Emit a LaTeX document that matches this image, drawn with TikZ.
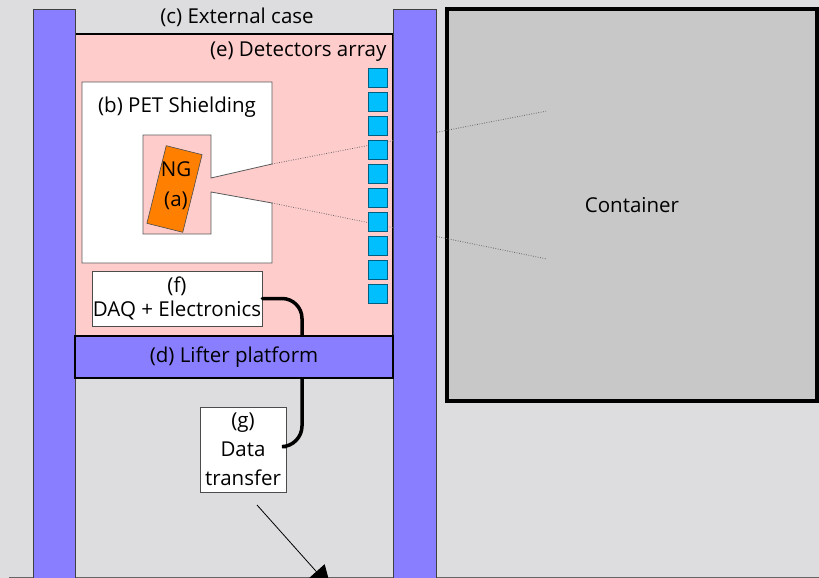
\documentclass[tikz,border=0pt]{standalone}
\usepackage{fontspec}
\setmainfont{Open Sans}
\usepackage{xcolor}
\usepackage{tikz}
\usetikzlibrary{shapes,arrows.meta}
\usetikzlibrary{positioning}

\definecolor{bggray}{RGB}{221,221,223}
\definecolor{liftblue}{RGB}{136,126,255}
\definecolor{casepink}{RGB}{255,204,204}
\definecolor{detcyan}{RGB}{0,191,255}
\definecolor{ngorange}{RGB}{255,128,0}
\definecolor{contgray}{RGB}{200,200,200}

\begin{document}
\begin{tikzpicture}[x=1pt,y=-1pt,
	every node/.style={font=\fontsize{20.5}{24}\selectfont},
	pillar/.style={rectangle,draw=black!75,line width=0.8pt,fill=liftblue,minimum width=42pt,anchor=north west},
	whitebox/.style={rectangle,draw=black!70,line width=0.8pt,fill=white,align=center,inner sep=0pt},
	detector/.style={rectangle,draw=black!50!detcyan,line width=0.6pt,fill=detcyan,minimum size=19pt,inner sep=0pt},
	ray/.style={black!60,line width=0.8pt,dash pattern=on 0.8pt off 1.6pt},
	cable/.style={line width=3.5pt,black,line cap=round}]
	
	\useasboundingbox (0,0) rectangle (819,578);
	\clip (0,0) rectangle (819,578);
	\fill[bggray] (0,0) rectangle (819,578);
	\draw[black!60,line width=1pt] (9,577.5) -- (819,577.5);
	
	% container
	\node[rectangle,draw=black,line width=4pt,fill=contgray,minimum width=370pt,minimum height=392pt] (cont) at (632,205) {Container};
	
	% external case
	\node[rectangle,draw=black,line width=2pt,fill=casepink,minimum width=318pt,minimum height=302pt] (case) at (234,185) {};
	\node (caselbl) at (237,17) {(c) External case};
	\node[anchor=east] (detlbl) at (390,52) {(e) Detectors array};
	
	% shielding with the collimator slit
	\coordinate (gapT) at (272,164);
	\coordinate (gapB) at (272,203);
	\draw[fill=white,draw=black!65,line width=0.8pt] (82,82) -- (272,82) -- (gapT) -- (211,178) -- (211,135) -- (143,135)
		-- (143,234) -- (211,234) -- (211,192) -- (gapB) -- (272,263) -- (82,263) -- cycle;
	\node (shieldlbl) at (177,107) {(b) PET Shielding};
	
	% neutron generator
	\node[rectangle,draw=black!70,line width=0.6pt,fill=ngorange,minimum width=37pt,minimum height=80pt,rotate=-14] (ng) at (174.5,189) {};
	\node[align=center,font=\fontsize{20.5}{30}\selectfont] (nglbl) at (176,186) {NG\\(a)};
	
	% beam cone
	\coordinate (rayT) at (547,111);
	\coordinate (rayB) at (547,259);
	\draw[ray] (gapT) -- (rayT);
	\draw[ray] (gapB) -- (rayB);
	
	% detectors
	\foreach \i in {0,...,9}
		\node[detector] (det\i) at (378,77.5+24*\i) {};
	
	% pillars
	\node[pillar,minimum height=575pt] (lpil) at (33,9) {};
	\node[pillar,minimum height=575pt,minimum width=43pt] (rpil) at (393,9) {};
	
	% electronics
	\node[whitebox,minimum width=170pt,minimum height=55pt,font=\fontsize{20.5}{24}\selectfont] (daq) at (177,298.5) {(f)\\DAQ + Electronics};
	\node[whitebox,minimum width=86pt,minimum height=85pt,font=\fontsize{20.5}{29}\selectfont] (data) at (243,449.5) {(g)\\Data\\transfer};
	
	% cable
	\coordinate (bend) at (302,446);
	\draw[cable,rounded corners=20pt] (daq.east) -| (bend) -- ([yshift=3pt]data.east);
	
	% lifter platform
	\node[rectangle,draw=black,line width=1.2pt,fill=liftblue,minimum width=318pt,minimum height=42pt] (lift) at (234,357) {(d) Lifter platform};
	
	% data link
	\coordinate (sendA) at (257,505);
	\coordinate (sendB) at (331,588);
	\draw[black,line width=0.8pt,-{Triangle[length=22pt,width=22pt]}] (sendA) -- (sendB);
	
\end{tikzpicture}
\end{document}
